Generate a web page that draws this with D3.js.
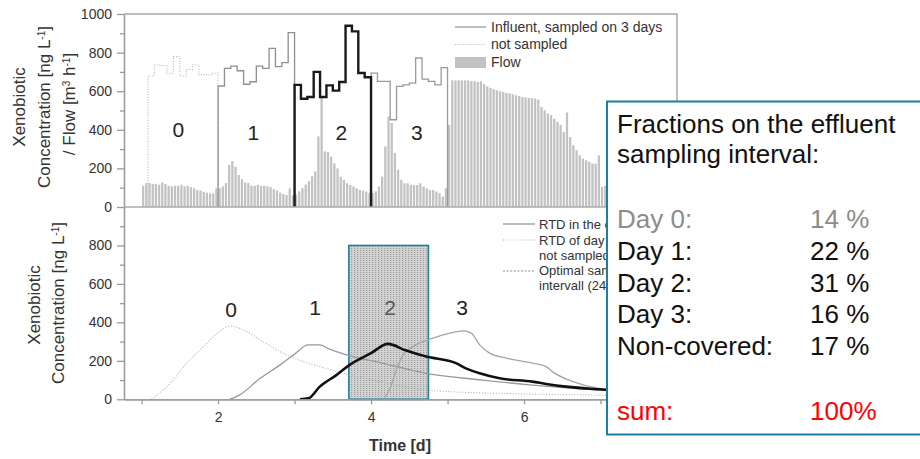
<!DOCTYPE html>
<html>
<head>
<meta charset="UTF-8">
<style>
    * { margin: 0; padding: 0; }
    body { background: #fff; width: 920px; height: 459px; overflow: hidden; }
    svg { display: block; font-family: "Liberation Sans", Arial, sans-serif; }
    .axis path, .axis line { stroke: #9a9a9a; stroke-width: 1.3; }
    .axis text { fill: #333; font-size: 14px; font-family: "Liberation Sans", Arial, sans-serif; }
    .ylab { fill: #333; font-size: 17px; }
    .leg { fill: #333; font-size: 14px; }
    .legb { fill: #333; font-size: 13px; }
    .daylab { fill: #222; font-size: 21px; }
    .box text { font-size: 26px; fill: #111; }
</style>
<script src="https://d3js.org/d3.v7.min.js"></script>
<title>Xenobiotic influent and RTD</title>
</head>
<body>
<svg id="chart" width="920" height="459"></svg>
<script>
// influent concentration in 2 h steps [ng/L]; day 0 starts 2 h late (first sample missing)
var influentDay0 = [679, 736, 733, 693, 779, 679, 712, 736, 686, 684, 693];
var influentDay1 = [627, 718, 730, 706, 636, 649, 730, 718, 822, 727, 748, 903];
var influentDay2 = [633, 561, 570, 700, 570, 630, 603, 648, 939, 910, 694, 672];
var influentDay3 = [694, 651, 651, 452, 625, 633, 642, 772, 663, 651, 633, 722];
var influentStart = [1 + 1 / 12, 2, 3, 4];

// hourly flow [m3/h], from day 1 on
var flowDay1 = [110, 124, 124, 120, 120, 115, 127, 119, 110, 107, 110, 110, 115, 107, 110, 103, 97, 88, 85, 79, 74, 71, 70, 97];
var flowDay2 = [97, 107, 124, 218, 238, 209, 166, 144, 127, 124, 110, 110, 115, 110, 110, 107, 103, 92, 85, 74, 67, 62, 97, 60];
var flowDay3 = [64, 81, 98, 116, 133, 159, 184, 366, 575, 288, 285, 261, 226, 200, 157, 140, 123, 114, 106, 97, 88, 85, 80, 74];
var flowDay4 = [72, 81, 106, 157, 314, 469, 435, 280, 193, 141, 123, 123, 114, 114, 114, 123, 106, 97, 88, 88, 80, 72, 54, 97];
var flowLater = [425, 656, 656, 656, 656, 656, 656, 652, 652, 648, 652, 637, 625, 617, 610, 605, 600, 596, 591, 588, 584, 579, 575, 570,
    567, 565, 565, 562, 556, 518, 501, 484, 476, 458, 441, 425, 389, 490, 362, 320, 294, 268, 251, 242, 234, 225, 225, 268,
    104, 110, 120, 135, 150, 170, 190, 210, 230, 245, 255, 260, 255, 250, 240, 230, 220, 210, 200, 190, 180, 170, 160, 150];

// residence time distributions in the effluent
var rtdTime0 = [1.13, 1.33, 1.59, 1.81, 2.02, 2.15, 2.37, 2.59, 2.81, 3.02, 3.33, 3.68, 4.2, 4.72, 5.68, 6.98, 8.0];
var rtdConc0 = [0, 66, 188, 274, 353, 382, 353, 300, 248, 210, 170, 130, 85, 48, 31, 22, 15];
var rtdTime1 = [2.15, 2.28, 2.55, 2.81, 3.0, 3.18, 3.33, 3.45, 3.68, 4.16, 4.72, 5.46, 6.11, 6.98, 8.0];
var rtdConc1 = [0, 22, 109, 179, 235, 283, 283, 262, 231, 187, 135, 100, 74, 48, 30];
var rtdTime2 = [3.07, 3.18, 3.33, 3.55, 3.72, 4.0, 4.22, 4.45, 4.72, 5.11, 5.24, 5.42, 5.68, 6.11, 6.29, 6.55, 6.98, 8.0];
var rtdConc2 = [0, 5, 66, 127, 179, 240, 288, 255, 222, 188, 161, 135, 109, 92, 80, 66, 52, 35];
var rtdTime3 = [4.16, 4.24, 4.33, 4.42, 4.59, 4.81, 5.03, 5.2, 5.31, 5.42, 5.55, 5.77, 6.11, 6.29, 6.37, 6.64, 6.98, 8.0];
var rtdConc3 = [0, 48, 153, 231, 283, 318, 344, 356, 344, 283, 240, 214, 188, 170, 144, 92, 57, 30];

var samplingInterval = [3.71, 4.75];
var samplingTop = 800;

var xTicks = [2, 4, 6];
var xMinor = [1, 3, 5, 7];
var yTicksTop = [0, 200, 400, 600, 800, 1000];
var yTicksBottom = [0, 200, 400, 600, 800];
var yMinor = [100, 300, 500, 700, 900];

var dayNames = ["0", "1", "2", "3"];
var topLabelDay = [1.48, 2.46, 3.61, 4.6];
var bottomLabelDay = [2.17, 3.27, 4.25, 5.19];

var fractionLabels = ["Day 0:", "Day 1:", "Day 2:", "Day 3:", "Non-covered:"];
var fractionValues = [14, 22, 31, 16, 17];

var svg = d3.select("#chart");

var x = d3.scaleLinear().domain([0.77, 8.0]).range([124, 677]);
var yTop = d3.scaleLinear().domain([0, 1000]).range([207, 14]);
var yBot = d3.scaleLinear().domain([0, 1000]).range([399.3, 207]);
var fmt = d3.format("d");

var defs = svg.append("defs");
var pat = defs.append("pattern").attr("id", "dots")
    .attr("patternUnits", "userSpaceOnUse").attr("width", 3).attr("height", 2);
pat.append("rect").attr("width", 3).attr("height", 2).attr("fill", "#d3d3d3");
pat.append("rect").attr("width", 1.2).attr("height", 1).attr("fill", "#9a9a9a");

defs.append("clipPath").attr("id", "plotclip")
    .append("rect").attr("x", 124).attr("y", 14).attr("width", 553).attr("height", 386);
defs.append("clipPath").attr("id", "legclip")
    .append("rect").attr("x", 440).attr("y", 200).attr("width", 166).attr("height", 100);

// ---------- top panel ----------
var flow = [].concat(flowDay1, flowDay2, flowDay3, flowDay4, flowLater);
var bw = x(1 / 24) - x(0);

svg.append("g").selectAll(".bar")
    .data(flow)
    .enter()
    .append("rect")
    .attr("class", "bar")
    .attr("x", function(d, i) { return x(1 + i / 24) + 0.4; })
    .attr("y", function(d) { return yTop(d); })
    .attr("width", bw - 0.9)
    .attr("height", function(d) { return yTop(0) - yTop(d); })
    .attr("fill", "#c2c2c2");

var step = d3.line()
    .x(function(d) { return x(d[0]); })
    .y(function(d) { return yTop(d[1]); })
    .curve(d3.curveStepAfter);

function influentPoints(vals, t0) {
    var pts = [[t0, 0]];
    vals.forEach(function(v, k) { pts.push([t0 + k / 12, v]); });
    var tEnd = t0 + vals.length / 12;
    pts.push([tEnd, vals[vals.length - 1]]);
    pts.push([tEnd, 0]);
    return pts;
}

var influent = [
    { vals: influentDay0, start: influentStart[0], stroke: "#b5b5b5", width: 1.1, dash: "1,1.6" },
    { vals: influentDay1, start: influentStart[1], stroke: "#8f8f8f", width: 1.3, dash: null },
    { vals: influentDay3, start: influentStart[3], stroke: "#9a9a9a", width: 1.3, dash: null },
    { vals: influentDay2, start: influentStart[2], stroke: "#1a1a1a", width: 2.4, dash: null }
];

influent.forEach(function(s) {
    svg.append("path")
        .attr("d", step(influentPoints(s.vals, s.start)))
        .attr("fill", "none")
        .attr("stroke", s.stroke)
        .attr("stroke-width", s.width)
        .attr("stroke-dasharray", s.dash);
});

svg.append("g").selectAll("text")
    .data(dayNames)
    .enter()
    .append("text")
    .attr("class", "daylab")
    .attr("text-anchor", "middle")
    .attr("x", function(d, i) { return x(topLabelDay[i]); })
    .attr("y", function(d, i) { return i == 0 ? 137 : 140; })
    .text(function(d) { return d; });

// frame of top panel
svg.append("path")
    .attr("d", "M124,14H677V207")
    .attr("fill", "none").attr("stroke", "#aaa").attr("stroke-width", 1.5);

svg.append("g").attr("class", "axis")
    .attr("transform", "translate(124,0)")
    .call(d3.axisLeft(yTop).tickValues(yTicksTop).tickFormat(fmt).tickSize(7).tickPadding(5).tickSizeOuter(0));
svg.append("g").attr("class", "axis")
    .attr("transform", "translate(124,0)")
    .call(d3.axisLeft(yTop).tickValues(yMinor).tickSize(4).tickFormat("").tickSizeOuter(0));

// top legend
var lt = svg.append("g");
lt.append("line").attr("x1", 455).attr("x2", 486).attr("y1", 27).attr("y2", 27)
    .attr("stroke", "#999").attr("stroke-width", 1.3);
lt.append("text").attr("class", "leg").attr("x", 491).attr("y", 32).text("Influent, sampled on 3 days");
lt.append("line").attr("x1", 455).attr("x2", 486).attr("y1", 44.5).attr("y2", 44.5)
    .attr("stroke", "#bbb").attr("stroke-width", 1).attr("stroke-dasharray", "1,1.6");
lt.append("text").attr("class", "leg").attr("x", 491).attr("y", 49).text("not sampled");
lt.append("rect").attr("x", 455).attr("y", 57).attr("width", 31).attr("height", 11).attr("fill", "#c2c2c2");
lt.append("text").attr("class", "leg").attr("x", 491).attr("y", 67).text("Flow");

// ---------- bottom panel ----------
svg.append("rect")
    .attr("x", x(samplingInterval[0]))
    .attr("y", yBot(samplingTop))
    .attr("width", x(samplingInterval[1]) - x(samplingInterval[0]))
    .attr("height", yBot(0) - yBot(samplingTop))
    .attr("fill", "url(#dots)")
    .attr("stroke", "#1d7f9b")
    .attr("stroke-width", 1.6);

var curve = d3.line()
    .x(function(d) { return x(d[0]); })
    .y(function(d) { return yBot(d[1]); })
    .curve(d3.curveMonotoneX);

var rtd = [
    { t: rtdTime0, c: rtdConc0, stroke: "#b0b0b0", width: 1.1, dash: "1,1.8" },
    { t: rtdTime1, c: rtdConc1, stroke: "#999", width: 1.3, dash: null },
    { t: rtdTime3, c: rtdConc3, stroke: "#a5a5a5", width: 1.3, dash: null },
    { t: rtdTime2, c: rtdConc2, stroke: "#111", width: 2.6, dash: null }
];

var cg = svg.append("g").attr("clip-path", "url(#plotclip)");
rtd.forEach(function(s) {
    cg.append("path")
        .attr("d", curve(d3.zip(s.t, s.c)))
        .attr("fill", "none")
        .attr("stroke", s.stroke)
        .attr("stroke-width", s.width)
        .attr("stroke-dasharray", s.dash);
});

svg.append("g").selectAll("text")
    .data(dayNames)
    .enter()
    .append("text")
    .attr("class", "daylab")
    .attr("text-anchor", "middle")
    .attr("x", function(d, i) { return x(bottomLabelDay[i]); })
    .attr("y", function(d, i) { return i == 0 ? 317 : 315; })
    .style("fill", function(d, i) { return i == 2 ? "#555" : null; })
    .text(function(d) { return d; });

// axis line between panels
svg.append("line").attr("x1", 124).attr("x2", 677).attr("y1", 207).attr("y2", 207)
    .attr("stroke", "#aaa").attr("stroke-width", 1.5);

svg.append("g").attr("class", "axis")
    .attr("transform", "translate(124,0)")
    .call(d3.axisLeft(yBot).tickValues(yTicksBottom).tickFormat(fmt).tickSize(7).tickPadding(5).tickSizeOuter(0));
svg.append("g").attr("class", "axis")
    .attr("transform", "translate(124,0)")
    .call(d3.axisLeft(yBot).tickValues(yMinor).tickSize(4).tickFormat("").tickSizeOuter(0));

svg.append("g").attr("class", "axis")
    .attr("transform", "translate(0,399.3)")
    .call(d3.axisBottom(x).tickValues(xTicks).tickFormat(fmt).tickSize(5).tickPadding(8).tickSizeOuter(0));
svg.append("g").attr("class", "axis")
    .attr("transform", "translate(0,399.3)")
    .call(d3.axisBottom(x).tickValues(xMinor).tickSize(5).tickFormat("").tickSizeOuter(0));

svg.append("text")
    .attr("x", 400).attr("y", 451)
    .attr("text-anchor", "middle")
    .attr("font-size", "16px").attr("font-weight", "bold").attr("fill", "#333")
    .text("Time [d]");

// bottom legend, partly hidden under the fractions box
var lb = svg.append("g").attr("clip-path", "url(#legclip)");
lb.append("line").attr("x1", 503).attr("x2", 535).attr("y1", 224).attr("y2", 224)
    .attr("stroke", "#999").attr("stroke-width", 1.3);
lb.append("text").attr("class", "legb").attr("x", 539).attr("y", 229).text("RTD in the effluent");
lb.append("line").attr("x1", 503).attr("x2", 535).attr("y1", 240).attr("y2", 240)
    .attr("stroke", "#b0b0b0").attr("stroke-width", 1).attr("stroke-dasharray", "1,1.8");
lb.append("text").attr("class", "legb").attr("x", 539).attr("y", 245).text("RTD of day 0,");
lb.append("text").attr("class", "legb").attr("x", 539).attr("y", 260).text("not sampled");
lb.append("line").attr("x1", 503).attr("x2", 535).attr("y1", 271).attr("y2", 271)
    .attr("stroke", "#8a8a8a").attr("stroke-width", 1.1).attr("stroke-dasharray", "2,1.6");
lb.append("text").attr("class", "legb").attr("x", 539).attr("y", 275).text("Optimal sampling");
lb.append("text").attr("class", "legb").attr("x", 539).attr("y", 290).text("intervall (24 h)");

// y axis titles
function ytitle(cx, cy, parts) {
    var t = svg.append("text").attr("class", "ylab")
        .attr("text-anchor", "middle")
        .attr("transform", "translate(" + cx + "," + cy + ") rotate(-90)");
    parts.forEach(function(p) {
        var s = t.append("tspan").text(p[0]);
        if (p[1]) s.attr("font-size", "10px").attr("baseline-shift", "super");
    });
}
ytitle(25, 107, [["Xenobiotic"]]);
ytitle(50, 107, [["Concentration [ng L"], ["-1", 1], ["]"]]);
ytitle(75, 104, [["/ Flow [m"], ["3", 1], [" h"], ["-1", 1], ["]"]]);
ytitle(40, 305, [["Xenobiotic"]]);
ytitle(64, 303, [["Concentration [ng L"], ["-1", 1], ["]"]]);

// fractions box
var box = svg.append("g").attr("class", "box");
box.append("rect").attr("x", 607).attr("y", 101.5).attr("width", 330).attr("height", 333)
    .attr("fill", "#fff").attr("stroke", "#1d7f9b").attr("stroke-width", 2);
box.append("text").attr("x", 617).attr("y", 133).text("Fractions on the effluent");
box.append("text").attr("x", 617).attr("y", 163).text("sampling interval:");

var rowY = [228, 260, 291.5, 322.5, 355];
fractionLabels.forEach(function(l, i) {
    var col = i == 0 ? "#8c8c8c" : "#111";
    box.append("text").attr("x", 617).attr("y", rowY[i]).style("fill", col).text(l);
    box.append("text").attr("x", 810).attr("y", rowY[i]).style("fill", col).text(fractionValues[i] + " %");
});
box.append("text").attr("x", 617).attr("y", 420).style("fill", "#f00").text("sum:");
box.append("text").attr("x", 810).attr("y", 420).style("fill", "#f00").text(d3.sum(fractionValues) + "%");
</script>
</body>
</html>
